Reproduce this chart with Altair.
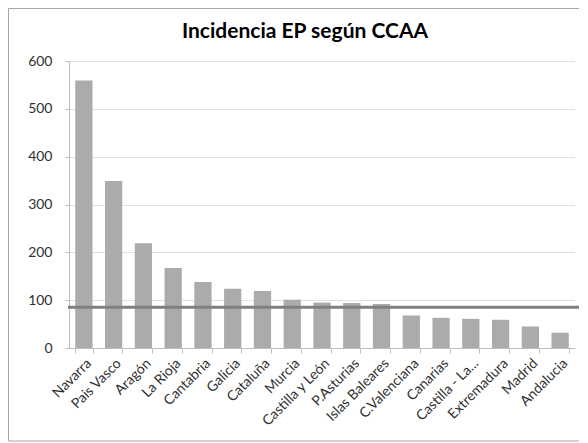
import altair as alt
import pandas as pd

regions = ["Navarra", "Pais Vasco", "Aragón", "La Rioja", "Cantabria", "Galicia",
           "Cataluña", "Murcia", "Castilla y León", "P.Asturias", "Islas Baleares",
           "C.Valenciana", "Canarias", "Castilla - La...", "Extremadura", "Madrid", "Andalucia"]
values = [559, 349, 219, 167, 138, 124, 119, 101, 95, 94, 92, 68, 63, 61, 59, 45, 32]
threshold = [85]
y_ticks = [0, 100, 200, 300, 400, 500, 600]
title_text = ["Incidencia EP según CCAA"]

df = pd.DataFrame({"region": regions, "value": values})
df_rule = pd.DataFrame({"t": threshold})
df_frame = pd.DataFrame({"f": [0]})
df_title = pd.DataFrame({"title": title_text})

FONT = "Lato"
W, H = 506, 287

bars = alt.Chart(df).mark_bar(color="#ababab").encode(
    x=alt.X("region:N", sort=regions, title=None,
            scale=alt.Scale(paddingInner=0.42, paddingOuter=0.21),
            axis=alt.Axis(labelAngle=-45, labelFont=FONT, labelFontSize=14,
                          labelColor="#303030", tickBand="extent", tickColor="#bfbfbf",
                          domainColor="#bfbfbf", tickSize=5, labelPadding=3)),
    y=alt.Y("value:Q", title=None,
            scale=alt.Scale(domain=[0, 600], nice=False),
            axis=alt.Axis(values=y_ticks, labelFont=FONT, labelFontSize=14,
                          labelColor="#303030", grid=True, gridColor="#c0c0c0",
                          gridDash=[1, 1], tickColor="#bfbfbf", domainColor="#bfbfbf",
                          tickSize=4, labelPadding=13)),
)

rule = alt.Chart(df_rule).mark_rule(color="#7f7f7f", strokeWidth=3).encode(
    y="t:Q", x=alt.value(-1), x2=alt.value(510)
)

frame = alt.Chart(df_frame).mark_rect(filled=False, stroke="#a6a6a6", strokeWidth=1).encode(
    x=alt.value(-60.5), x2=alt.value(530), y=alt.value(-52.5), y2=alt.value(380)
)

title = alt.Chart(df_title).mark_text(
    font=FONT, fontSize=21, fontWeight="bold", color="#000000",
    align="center", baseline="alphabetic"
).encode(text="title:N", x=alt.value(236), y=alt.value(-23))

chart = alt.layer(bars, rule, frame, title).properties(
    width=W, height=H,
    autosize=alt.AutoSizeParams(type="none"),
    padding={"left": 61, "top": 53, "right": 4, "bottom": 94},
).configure_view(stroke=None)

chart.save("out.html", embed_options={"renderer": "svg", "actions": False})
